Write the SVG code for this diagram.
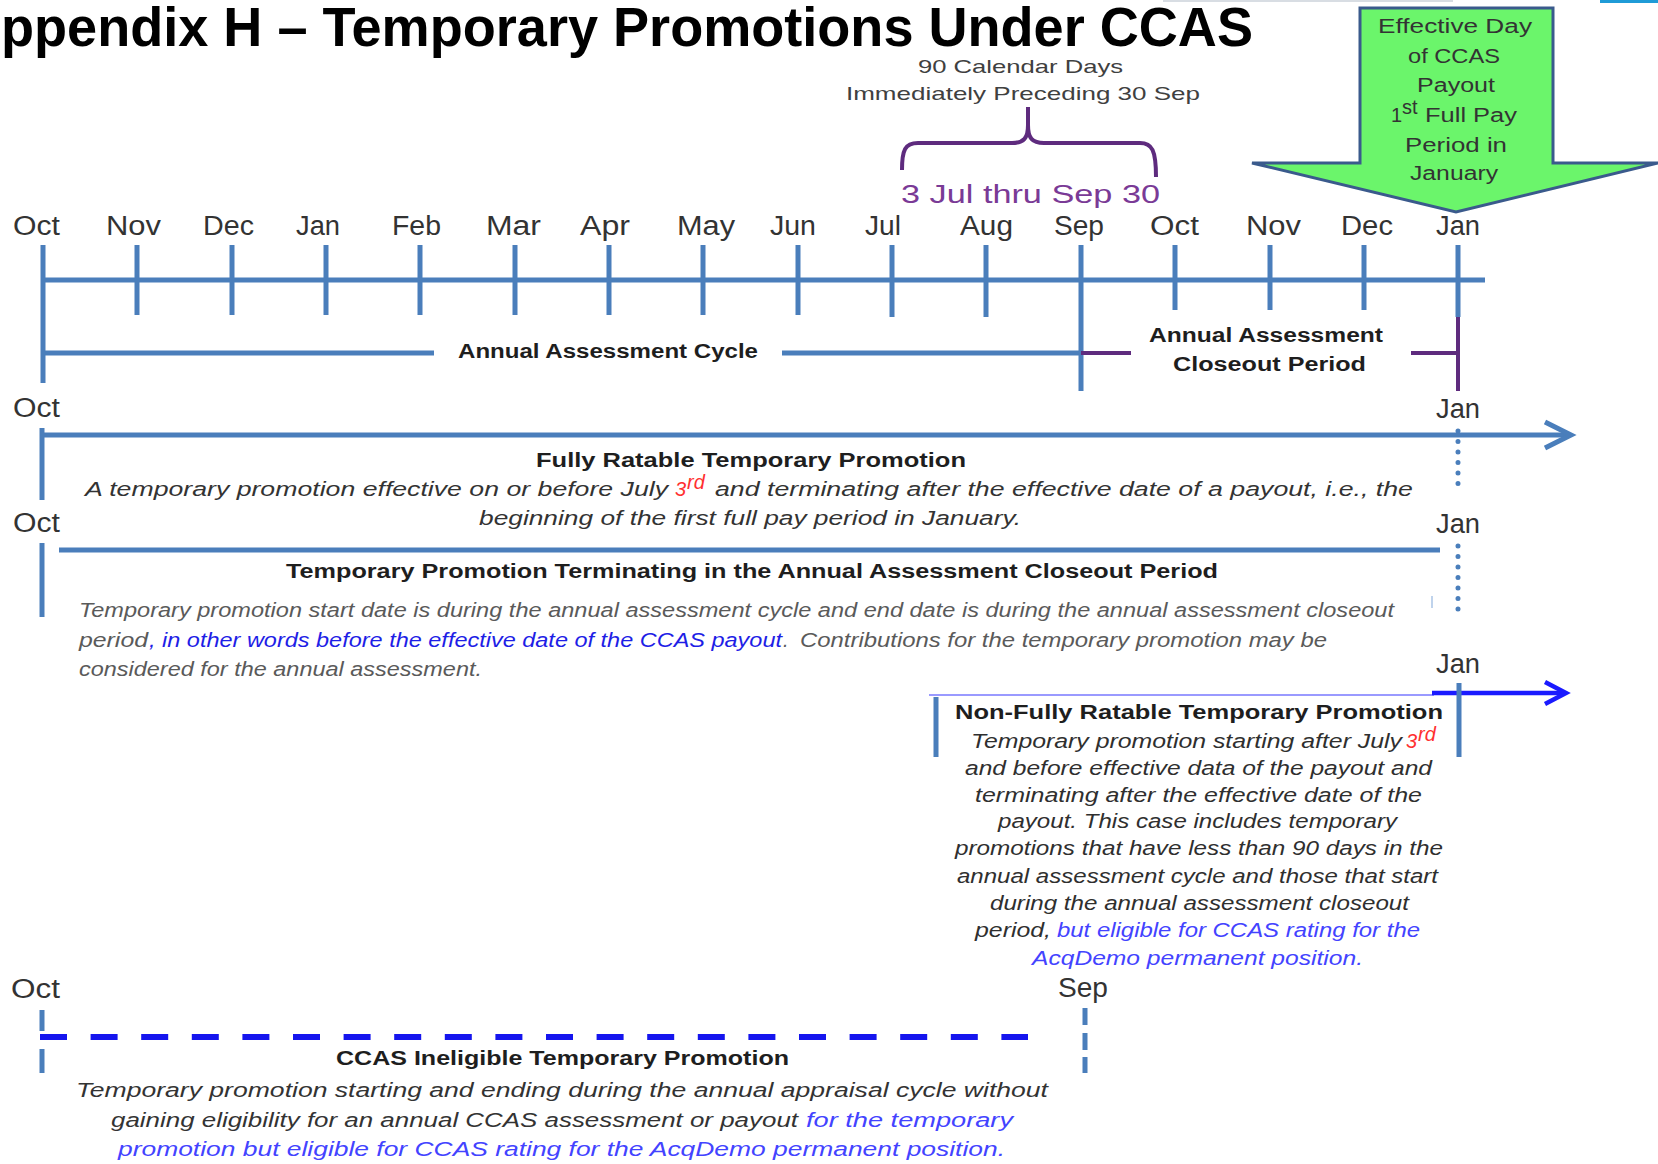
<svg xmlns="http://www.w3.org/2000/svg" width="1658" height="1164" viewBox="0 0 1658 1164">
<style>
text{font-family:"Liberation Sans",Arial,sans-serif}
.mo{font-size:27px;fill:#333}
.hd{font-size:20px;font-weight:bold;fill:#1e1e1e}
.it{font-size:20px;font-style:italic;fill:#333}
.g{fill:#5a5a5a}
.s3{fill:#2f2f2f}
.bl{fill:#1e1ee6}
.bl2{fill:#4343ff}
.red{fill:#ff3030}
.ar{font-size:20px;fill:#333}
.ax{stroke:#4a7ebb;stroke-width:5;fill:none}
.pu{stroke:#5e2b7e;stroke-width:4;fill:none}
.dot{stroke:#4a7ebb;stroke-width:5;fill:none;stroke-linecap:round;stroke-dasharray:0 10.5}
</style>
<rect width="1658" height="1164" fill="#fff"/>
<rect x="1163" y="0" width="290" height="2" fill="#d8dde3"/>
<rect x="1600" y="0" width="58" height="3" fill="#1f9bd7"/>

<g id="title">
<text x="1" y="46" font-size="55" font-weight="bold" fill="#000" textLength="1252" lengthAdjust="spacingAndGlyphs">ppendix H – Temporary Promotions Under CCAS</text>
</g>

<g id="payout-arrow">
<polygon points="1360,8 1553,8 1553,163 1658,163 1456,212 1252,163 1360,163" fill="#6bf56b" stroke="#3a5a8c" stroke-width="3" stroke-linejoin="miter"/>
<text class="ar" x="1378" y="33" textLength="154" lengthAdjust="spacingAndGlyphs">Effective Day</text>
<text class="ar" x="1408" y="63" textLength="92" lengthAdjust="spacingAndGlyphs">of CCAS</text>
<text class="ar" x="1417" y="92" textLength="78" lengthAdjust="spacingAndGlyphs">Payout</text>
<text class="ar" x="1391" y="122">1</text>
<text class="ar" x="1402" y="114" font-size="11">st</text>
<text class="ar" x="1425" y="122" textLength="92" lengthAdjust="spacingAndGlyphs">Full Pay</text>
<text class="ar" x="1405" y="152" textLength="102" lengthAdjust="spacingAndGlyphs">Period in</text>
<text class="ar" x="1410" y="180" textLength="88" lengthAdjust="spacingAndGlyphs">January</text>
</g>

<g id="bracket-90-days">
<text x="918" y="73" font-size="19" fill="#404040" textLength="205" lengthAdjust="spacingAndGlyphs">90 Calendar Days</text>
<text x="846" y="100" font-size="19" fill="#404040" textLength="354" lengthAdjust="spacingAndGlyphs">Immediately Preceding 30 Sep</text>
<path class="pu" stroke-width="3.5" d="M902 170 C902 150 905 143 918 143 L1012 143 C1024 143 1028 138 1028 125 L1028 107 M1028 125 C1028 138 1032 143 1044 143 L1140 143 C1152 143 1156 150 1156 177"/>
<text x="901" y="203" font-size="26" fill="#7a3a96" textLength="259" lengthAdjust="spacingAndGlyphs">3 Jul thru Sep 30</text>
</g>

<g id="month-labels">
<text class="mo" x="13" y="235" textLength="47" lengthAdjust="spacingAndGlyphs">Oct</text>
<text class="mo" x="106" y="235" textLength="55" lengthAdjust="spacingAndGlyphs">Nov</text>
<text class="mo" x="203" y="235" textLength="51" lengthAdjust="spacingAndGlyphs">Dec</text>
<text class="mo" x="296" y="235" textLength="44" lengthAdjust="spacingAndGlyphs">Jan</text>
<text class="mo" x="392" y="235" textLength="49" lengthAdjust="spacingAndGlyphs">Feb</text>
<text class="mo" x="486" y="235" textLength="55" lengthAdjust="spacingAndGlyphs">Mar</text>
<text class="mo" x="580" y="235" textLength="50" lengthAdjust="spacingAndGlyphs">Apr</text>
<text class="mo" x="677" y="235" textLength="58" lengthAdjust="spacingAndGlyphs">May</text>
<text class="mo" x="770" y="235" textLength="46" lengthAdjust="spacingAndGlyphs">Jun</text>
<text class="mo" x="865" y="235" textLength="36" lengthAdjust="spacingAndGlyphs">Jul</text>
<text class="mo" x="960" y="235" textLength="53" lengthAdjust="spacingAndGlyphs">Aug</text>
<text class="mo" x="1054" y="235" textLength="50" lengthAdjust="spacingAndGlyphs">Sep</text>
<text class="mo" x="1150" y="235" textLength="49" lengthAdjust="spacingAndGlyphs">Oct</text>
<text class="mo" x="1246" y="235" textLength="55" lengthAdjust="spacingAndGlyphs">Nov</text>
<text class="mo" x="1341" y="235" textLength="52" lengthAdjust="spacingAndGlyphs">Dec</text>
<text class="mo" x="1436" y="235" textLength="44" lengthAdjust="spacingAndGlyphs">Jan</text>
</g>

<g id="cycle-labels">
<text class="hd" x="458" y="358" textLength="300" lengthAdjust="spacingAndGlyphs">Annual Assessment Cycle</text>
<text class="hd" x="1149" y="342" textLength="234" lengthAdjust="spacingAndGlyphs">Annual Assessment</text>
<text class="hd" x="1173" y="371" textLength="193" lengthAdjust="spacingAndGlyphs">Closeout Period</text>
</g>

<g id="fully-ratable">
<text class="mo" x="13" y="417" textLength="47" lengthAdjust="spacingAndGlyphs">Oct</text>
<text class="mo" x="1436" y="418" textLength="44" lengthAdjust="spacingAndGlyphs">Jan</text>
<text class="hd" x="536" y="467" textLength="430" lengthAdjust="spacingAndGlyphs">Fully Ratable Temporary Promotion</text>
<text class="it" x="85" y="496" textLength="583" lengthAdjust="spacingAndGlyphs">A temporary promotion effective on or before July</text>
<text class="it red" x="675" y="496">3</text>
<text class="it red" x="687" y="489" font-size="12">rd</text>
<text class="it" x="715" y="496" textLength="698" lengthAdjust="spacingAndGlyphs">and terminating after the effective date of a payout, i.e., the</text>
<text class="it" x="479" y="525" textLength="542" lengthAdjust="spacingAndGlyphs">beginning of the first full pay period in January.</text>
</g>

<g id="terminating-in-closeout">
<text class="mo" x="13" y="532" textLength="47" lengthAdjust="spacingAndGlyphs">Oct</text>
<text class="mo" x="1436" y="533" textLength="44" lengthAdjust="spacingAndGlyphs">Jan</text>
<text class="hd" x="286" y="578" textLength="932" lengthAdjust="spacingAndGlyphs">Temporary Promotion Terminating in the Annual Assessment Closeout Period</text>
<text class="it g" x="79" y="617" textLength="1315" lengthAdjust="spacingAndGlyphs">Temporary promotion start date is during the annual assessment cycle and end date is during the annual assessment closeout</text>
<text class="it g" x="79" y="647" textLength="69" lengthAdjust="spacingAndGlyphs">period</text>
<text class="it bl" x="149" y="647" textLength="633" lengthAdjust="spacingAndGlyphs">, in other words before the effective date of the CCAS payout</text>
<text class="it g" x="783" y="647">.</text>
<text class="it g" x="800" y="647" textLength="527" lengthAdjust="spacingAndGlyphs">Contributions for the temporary promotion may be</text>
<text class="it g" x="79" y="676" textLength="403" lengthAdjust="spacingAndGlyphs">considered for the annual assessment.</text>
</g>

<g id="non-fully-ratable">
<text class="mo" x="1436" y="673" textLength="44" lengthAdjust="spacingAndGlyphs">Jan</text>
<text class="hd" x="955" y="719" textLength="488" lengthAdjust="spacingAndGlyphs">Non-Fully Ratable Temporary Promotion</text>
<text class="it s3" x="971" y="748" textLength="431" lengthAdjust="spacingAndGlyphs">Temporary promotion starting after July</text>
<text class="it red" x="1406" y="748">3</text>
<text class="it red" x="1418" y="741" font-size="11">rd</text>
<text class="it s3" x="965" y="775" textLength="467" lengthAdjust="spacingAndGlyphs">and before effective data of the payout and</text>
<text class="it s3" x="975" y="802" textLength="447" lengthAdjust="spacingAndGlyphs">terminating after the effective date of the</text>
<text class="it s3" x="998" y="828" textLength="399" lengthAdjust="spacingAndGlyphs">payout. This case includes temporary</text>
<text class="it s3" x="955" y="855" textLength="488" lengthAdjust="spacingAndGlyphs">promotions that have less than 90 days in the</text>
<text class="it s3" x="957" y="883" textLength="481" lengthAdjust="spacingAndGlyphs">annual assessment cycle and those that start</text>
<text class="it s3" x="990" y="910" textLength="419" lengthAdjust="spacingAndGlyphs">during the annual assessment closeout</text>
<text class="it s3" x="975" y="937" textLength="76" lengthAdjust="spacingAndGlyphs">period,</text>
<text class="it bl2" x="1057" y="937" textLength="363" lengthAdjust="spacingAndGlyphs">but eligible for CCAS rating for the</text>
<text class="it bl2" x="1032" y="965" textLength="331" lengthAdjust="spacingAndGlyphs">AcqDemo permanent position.</text>
</g>

<g id="ccas-ineligible">
<text class="mo" x="11" y="998" textLength="49" lengthAdjust="spacingAndGlyphs">Oct</text>
<text class="mo" x="1058" y="997" textLength="50" lengthAdjust="spacingAndGlyphs">Sep</text>
<text class="hd" x="336" y="1065" textLength="453" lengthAdjust="spacingAndGlyphs">CCAS Ineligible Temporary Promotion</text>
<text class="it" x="76" y="1097" textLength="972" lengthAdjust="spacingAndGlyphs">Temporary promotion starting and ending during the annual appraisal cycle without</text>
<text class="it" x="111" y="1127" textLength="687" lengthAdjust="spacingAndGlyphs">gaining eligibility for an annual CCAS assessment or payout</text>
<text class="it bl2" x="806" y="1127" textLength="207" lengthAdjust="spacingAndGlyphs">for the temporary</text>
<text class="it bl2" x="118" y="1156" textLength="887" lengthAdjust="spacingAndGlyphs">promotion but eligible for CCAS rating for the AcqDemo permanent position.</text>
</g>

<g id="connectors">
<path class="ax" d="M43 280 H1485"/>
<path class="ax" d="M43 245 V383 M137 245 V315 M232 245 V315 M326 245 V315 M420 245 V315 M515 245 V315 M609 245 V315 M703 245 V315 M798 245 V315 M892 245 V317 M986 245 V317 M1081 245 V391 M1175 245 V310 M1270 245 V310 M1364 245 V310 M1458 245 V317"/>
<path class="pu" d="M1458 317 V391"/>
<path class="ax" stroke-width="4" d="M43 353 H434 M782 353 H1081"/>
<path class="pu" d="M1081 353 H1131 M1411 353 H1458"/>
<path class="ax" d="M42 428 V500"/>
<path class="ax" d="M42 435 H1568"/>
<polyline class="ax" points="1545,422 1571,435 1545,448"/>
<path class="dot" d="M1458 431 V494"/>
<path class="ax" d="M42 543 V617"/>
<path class="ax" d="M59 550 H1440"/>
<path class="dot" d="M1458 546 V610"/>
<path d="M1432 596 V608" stroke="#aac4e6" stroke-width="1.5"/>
<path d="M929 695 H1434" stroke="#7878ff" stroke-width="1.5"/>
<path d="M1432 693 H1564" stroke="#1a1aff" stroke-width="4.5" fill="none"/>
<polyline points="1545,682 1566,693 1545,704" stroke="#1a1aff" stroke-width="4.5" fill="none"/>
<path class="ax" d="M936 697 V757 M1459 683 V757"/>
<path class="ax" stroke-width="4" d="M42 1010 V1031 M42 1049 V1073"/>
<path d="M40 1037 H1028" stroke="#1515ee" stroke-width="6" stroke-dasharray="27 23.6" fill="none"/>
<path class="ax" stroke-width="4" d="M1085 1008 V1025 M1085 1033 V1050 M1085 1057 V1073"/>
</g>
</svg>
